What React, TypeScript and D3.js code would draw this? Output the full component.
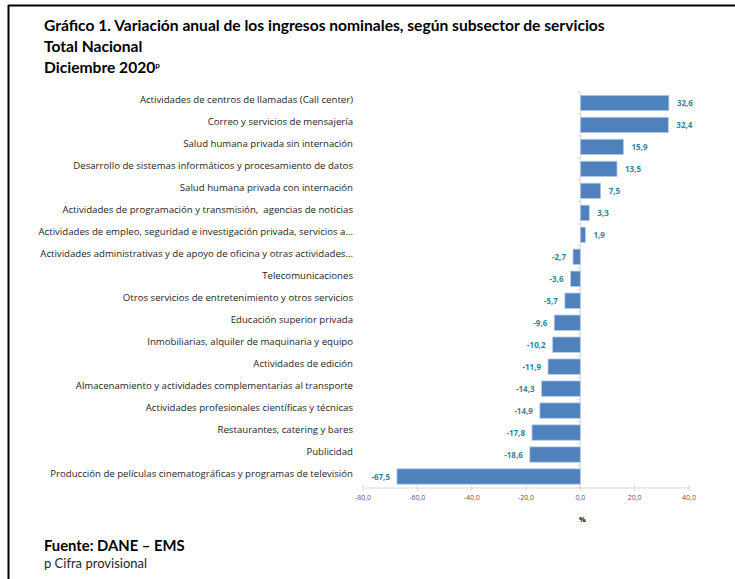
import React, { useEffect, useRef } from "react";
import * as d3 from "d3";

const categories = [
  "Actividades de centros de llamadas (Call center)",
  "Correo y servicios de mensajería",
  "Salud humana privada sin internación",
  "Desarrollo de sistemas informáticos y procesamiento de datos",
  "Salud humana privada con internación",
  "Actividades de programación y transmisión,  agencias de noticias",
  "Actividades de empleo, seguridad e investigación privada, servicios a...",
  "Actividades administrativas y de apoyo de oficina y otras actividades...",
  "Telecomunicaciones",
  "Otros servicios de entretenimiento y otros servicios",
  "Educación superior privada",
  "Inmobiliarias, alquiler de maquinaria y equipo",
  "Actividades de edición",
  "Almacenamiento y actividades complementarias al transporte",
  "Actividades profesionales científicas y técnicas",
  "Restaurantes, catering y bares",
  "Publicidad",
  "Producción de películas cinematográficas y programas de televisión",
];

const values = [
  32.6, 32.4, 15.9, 13.5, 7.5, 3.3, 1.9, -2.7, -3.6, -5.7, -9.6, -10.2, -11.9,
  -14.3, -14.9, -17.8, -18.6, -67.5,
];

const xTicks = [-80, -60, -40, -20, 0, 20, 40];

const titleLines = [
  "Gráfico 1. Variación anual de los ingresos nominales, según subsector de servicios",
  "Total Nacional",
  "Diciembre 2020",
];

const W = 735;
const H = 579;
const FONT = "Lato, 'Open Sans', sans-serif";
const LABEL_FONT = "'Open Sans', sans-serif";

const fmt = (v: number) => v.toFixed(1).replace(".", ",");

export default function App() {
  const ref = useRef<SVGSVGElement>(null);

  useEffect(() => {
    document.body.style.margin = "0";
    const svg = d3.select(ref.current);
    svg.selectAll("*").remove();

    svg.append("rect").attr("width", W).attr("height", H).attr("fill", "#fff");

    // frame
    svg.append("line").attr("x1", 8).attr("x2", W).attr("y1", 5.5).attr("y2", 5.5)
      .attr("stroke", "#000").attr("stroke-width", 2);
    svg.append("line").attr("x1", 8.5).attr("x2", 8.5).attr("y1", 5).attr("y2", H)
      .attr("stroke", "#000").attr("stroke-width", 2);

    // title
    const t = svg.append("g").attr("font-family", FONT).attr("font-weight", "bold")
      .attr("fill", "#000");
    titleLines.forEach((s, i) => {
      const tx = t.append("text").attr("x", 44).attr("y", 31 + i * 21)
        .attr("font-size", 15.6).text(s);
      if (i === 2) tx.append("tspan").attr("font-size", 8).attr("dy", -5).text("p");
    });

    const x = d3.scaleLinear().domain([-80, 40]).range([363, 689]);
    const y = d3.scaleBand().domain(categories).range([92, 487.5]).paddingInner(0.3).paddingOuter(0.15);

    // bottom axis
    const ax = svg.append("g").attr("font-family", LABEL_FONT);
    ax.append("line").attr("x1", x(-80)).attr("x2", x(40)).attr("y1", 488).attr("y2", 488)
      .attr("stroke", "#d9d9d9");
    ax.selectAll(".tk").data(xTicks).enter().append("line")
      .attr("x1", (d) => x(d)).attr("x2", (d) => x(d))
      .attr("y1", 485).attr("y2", 491).attr("stroke", "#d9d9d9");
    ax.selectAll(".tl").data(xTicks).enter().append("text")
      .attr("x", (d) => x(d)).attr("y", 500).attr("text-anchor", "middle")
      .attr("font-size", 7).attr("fill", "#595959").text((d) => fmt(d));
    ax.append("text").attr("x", x(0) + 2).attr("y", 522).attr("text-anchor", "middle")
      .attr("font-size", 7.5).attr("font-weight", "bold").attr("fill", "#000").text("%");

    // vertical category axis at zero
    const bounds = d3.range(categories.length + 1).map((i) => 92 + i * ((487.5 - 92) / categories.length));
    svg.append("line").attr("x1", x(0)).attr("x2", x(0)).attr("y1", 92).attr("y2", 488)
      .attr("stroke", "#d9d9d9");
    svg.selectAll(".ct").data(bounds).enter().append("line")
      .attr("x1", x(0) - 3).attr("x2", x(0)).attr("y1", (d) => d).attr("y2", (d) => d)
      .attr("stroke", "#d9d9d9");

    // bars
    svg.selectAll(".bar").data(values).enter().append("rect")
      .attr("x", (d) => x(Math.min(0, d)))
      .attr("width", (d) => Math.abs(x(d) - x(0)))
      .attr("y", (_, i) => y(categories[i])!)
      .attr("height", y.bandwidth())
      .attr("fill", "#4f81bd").attr("stroke", "#b9cde5").attr("stroke-width", 0.8);

    // value labels
    svg.selectAll(".vl").data(values).enter().append("text")
      .attr("font-family", LABEL_FONT).attr("font-size", 8).attr("font-weight", "bold")
      .attr("fill", "#31859c")
      .attr("x", (d) => (d >= 0 ? x(d) + 8 : x(d) - 7))
      .attr("text-anchor", (d) => (d >= 0 ? "start" : "end"))
      .attr("y", (_, i) => y(categories[i])! + y.bandwidth() / 2 + 3)
      .text((d) => fmt(d));

    // category labels
    svg.selectAll(".cl").data(categories).enter().append("text")
      .attr("font-family", LABEL_FONT).attr("font-size", 9.65).attr("fill", "#262626")
      .style("white-space", "pre")
      .attr("x", 353).attr("text-anchor", "end")
      .attr("y", (d) => y(d)! + y.bandwidth() / 2 + 0.5)
      .text((d) => d);

    // footer
    svg.append("text").attr("x", 44).attr("y", 551).attr("font-family", FONT)
      .attr("font-size", 14.8).attr("font-weight", "bold").attr("fill", "#000")
      .text("Fuente: DANE – EMS");
    svg.append("text").attr("x", 44).attr("y", 568).attr("font-family", FONT)
      .attr("font-size", 13).attr("fill", "#262626").text("p Cifra provisional");
  }, []);

  return <svg ref={ref} width={W} height={H} style={{ display: "block" }} />;
}
